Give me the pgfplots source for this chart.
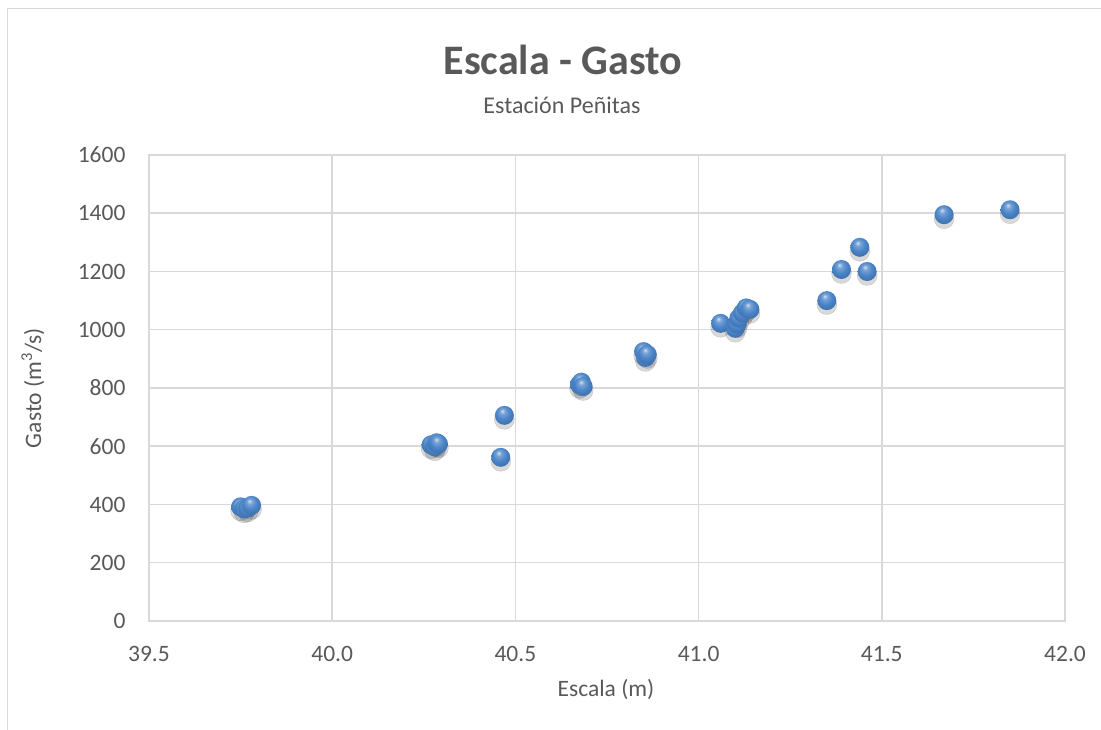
\documentclass[border=0pt]{standalone}
\usepackage{fontspec}
\setmainfont{Carlito}
\usepackage{pgfplots}
\pgfplotsset{compat=1.18}
\usepackage{pgfplotstable}
\definecolor{txt}{HTML}{595959}
\definecolor{grd}{HTML}{D9D9D9}
\definecolor{ballc}{HTML}{4A84C8}
\pgfdeclareradialshading{myball}{\pgfpoint{-6bp}{12bp}}{%
  color(0bp)=(white!75!ballc); color(7bp)=(white!25!ballc); color(18bp)=(ballc);
  color(30bp)=(ballc!85!black); color(40bp)=(ballc!60!black); color(50bp)=(ballc!45!black)}
\pgfdeclareplotmark{myball}{%
  \pgfpathcircle{\pgfpointorigin}{\pgfplotmarksize}%
  \pgfshadepath{myball}{0}%
  \pgfusepath{}}
\pgfplotstableread{
x y
39.75 392
39.76 385
39.77 388
39.78 397
40.27 605
40.28 598
40.285 612
40.29 608
40.46 562
40.47 706
40.675 812
40.68 820
40.685 805
40.85 925
40.855 905
40.86 915
41.06 1022
41.10 1005
41.105 1020
41.11 1040
41.12 1058
41.13 1075
41.14 1070
41.35 1100
41.39 1207
41.44 1283
41.46 1200
41.67 1395
41.85 1412
}\data
\begin{document}
\begin{tikzpicture}[x=1pt,y=1pt]
\path[use as bounding box] (0,0) rectangle (1101,730);
\draw[grd, line width=1.5pt] (7.5,-10) -- (7.5,721.5) -- (1110,721.5);
\begin{axis}[at={(149pt,109pt)}, anchor=south west, scale only axis,
  width=916pt, height=466pt,
  xmin=39.5, xmax=42, ymin=0, ymax=1600,
  xtick={39.5,40,40.5,41,41.5,42}, ytick={0,200,...,1600},
  grid=major, major grid style={grd, line width=1.5pt},
  axis line style={grd, line width=1.5pt}, tick style={draw=none},
  ticklabel style={font=\fontsize{23.5}{28}\selectfont, text=txt},
  /pgf/number format/assume math mode=true,
  x tick label style={/pgf/number format/fixed, /pgf/number format/fixed zerofill, /pgf/number format/precision=1, yshift=-22pt},
  y tick label style={/pgf/number format/1000 sep={}, xshift=-20pt},
  scaled ticks=false, clip=false]
\addplot[only marks, mark=*, mark size=10pt, mark options={fill=black, draw=none, opacity=0.15, yshift=-4pt}] table {\data};
\addplot[only marks, mark=myball, mark size=9.5pt] table {\data};
\end{axis}
\node[text=txt, font=\fontsize{42}{50}\selectfont\bfseries] at (563,670) {Escala - Gasto};
\node[text=txt, font=\fontsize{24}{28}\selectfont] at (562,625) {Estación Peñitas};
\node[text=txt, font=\fontsize{23.5}{28}\selectfont] at (606,40) {Escala (m)};
\node[text=txt, font=\fontsize{23.5}{28}\selectfont, rotate=90] at (33,342) {Gasto (m\textsuperscript{3}/s)};
\end{tikzpicture}
\end{document}
